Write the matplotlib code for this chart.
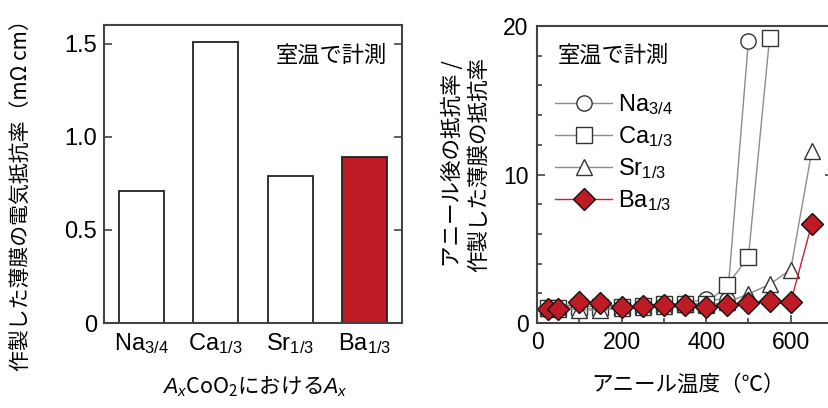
import matplotlib
matplotlib.use("Agg")
import matplotlib.pyplot as plt
from matplotlib.ticker import MultipleLocator

# fonts: latin in Liberation Sans, japanese from Noto CJK
plt.rcParams['font.family'] = ['Liberation Sans', 'Noto Sans CJK JP', 'DejaVu Sans']
plt.rcParams['mathtext.fontset'] = 'custom'
plt.rcParams['mathtext.rm'] = 'Liberation Sans'
plt.rcParams['mathtext.it'] = 'Liberation Sans:italic'
plt.rcParams['mathtext.default'] = 'regular'

JP = ['Noto Sans CJK JP', 'Liberation Sans']

#################################################
# Data
Categories = ['Na$_{3/4}$', 'Ca$_{1/3}$', 'Sr$_{1/3}$', 'Ba$_{1/3}$']
Resistivity = [0.71, 1.51, 0.79, 0.89]  # [mOhm cm]
BarColors = ['white', 'white', 'white', '#BE1B24']

TempNa = [25, 50, 100, 150, 200, 250, 300, 350, 400, 450, 500]
RatioNa = [1.0, 0.95, 1.0, 0.9, 1.0, 1.1, 1.15, 1.35, 1.6, 1.55, 19.0]
TempCa = [25, 50, 100, 150, 200, 250, 300, 350, 400, 450, 500, 550]
RatioCa = [1.0, 1.0, 1.1, 1.1, 1.05, 1.15, 1.3, 1.3, 1.3, 2.55, 4.45, 19.2]
TempSr = [25, 50, 100, 150, 200, 250, 300, 350, 400, 450, 500, 550, 600, 650]
RatioSr = [1.0, 0.95, 0.9, 0.85, 1.0, 1.1, 1.15, 1.3, 1.2, 1.4, 1.95, 2.6, 3.6, 11.6]
TempBa = [25, 50, 100, 150, 200, 250, 300, 350, 400, 450, 500, 550, 600, 650]
RatioBa = [0.95, 0.95, 1.4, 1.35, 1.05, 1.15, 1.2, 1.2, 1.1, 1.2, 1.35, 1.45, 1.4, 6.7]
#################################################

fig = plt.figure(figsize=(8.29, 4.08), dpi=100)
spine_col = '#444444'

# ---- left: bar chart
ax1 = fig.add_axes([104/829, 1-323/408, (402-104)/829, (323-25)/408])
ax1.bar(range(len(Categories)), Resistivity, width=0.6, color=BarColors,
        edgecolor='#222222', linewidth=1.3)
ax1.set_xlim(-0.5, 3.5)
ax1.set_ylim(0, 1.6)
ax1.set_xticks(range(len(Categories)))
ax1.set_xticklabels(Categories, fontsize=17)
ax1.set_yticks([0, 0.5, 1.0, 1.5])
ax1.set_yticklabels(['0', '0.5', '1.0', '1.5'], fontsize=17)
ax1.tick_params(axis='x', length=0, pad=6)
ax1.tick_params(axis='y', direction='in', right=True, length=6, width=1.2,
                color=spine_col, pad=5)
ax1.text(0.95, 0.90, '室温で計測', transform=ax1.transAxes, ha='right', va='center',
         fontsize=16, family=JP)

# ---- right: annealing curves
ax2 = fig.add_axes([537/829, 1-323/408, (833-537)/829, (323-26)/408])
gray = '#8c8c8c'
ax2.plot(TempNa, RatioNa, color=gray, lw=1, marker='o', ms=11, mfc='white',
         mec='#333333', mew=1, label='Na$_{3/4}$')
ax2.plot(TempCa, RatioCa, color=gray, lw=1, marker='s', ms=11, mfc='white',
         mec='#333333', mew=1, label='Ca$_{1/3}$')
ax2.plot(TempSr, RatioSr, color=gray, lw=1, marker='^', ms=12, mfc='white',
         mec='#333333', mew=1, label='Sr$_{1/3}$')
ax2.plot(TempBa, RatioBa, color='#D0202C', lw=1, marker='D', ms=11, mfc='#BE1B24',
         mec='#111111', mew=1, label='Ba$_{1/3}$')
ax2.set_xlim(0, 700)
ax2.set_ylim(0, 20)
ax2.set_xticks([0, 200, 400, 600])
ax2.set_yticks([0, 10, 20])
ax2.xaxis.set_minor_locator(MultipleLocator(100))
ax2.yaxis.set_minor_locator(MultipleLocator(2))
ax2.tick_params(axis='both', which='major', labelsize=16.5, direction='in',
                length=6, width=1.2, color=spine_col)
ax2.tick_params(axis='both', which='minor', direction='in', length=3.5,
                width=1.2, color=spine_col)
ax2.tick_params(axis='y', which='both', right=True, pad=6)
ax2.tick_params(axis='x', which='both', pad=6)
ax2.text(0.07, 0.90, '室温で計測', transform=ax2.transAxes, ha='left', va='center',
         fontsize=16, family=JP)
ax2.legend(loc='upper left', bbox_to_anchor=(0.03, 0.81), frameon=False,
           fontsize=17, handlelength=2.4, handletextpad=0.25, labelspacing=0.3,
           borderaxespad=0)

for ax in (ax1, ax2):
    for s in ax.spines.values():
        s.set_color(spine_col)
        s.set_linewidth(1.5)

# axis labels placed on the figure
fig.text(255/829, 1-386/408, r'$\mathit{A}_{\mathit{x}}$CoO$_2$における$\mathit{A}_{\mathit{x}}$',
         ha='center', va='center', fontsize=15.5, family=JP)
fig.text(22/829, 1-190/408, '作製した薄膜の電気抵抗率（mΩ cm）', rotation=90,
         ha='center', va='center', fontsize=15, family=JP)
fig.text(466/829, 1-164/408, 'アニール後の抵抗率 /\n作製した薄膜の抵抗率', rotation=90,
         ha='center', va='center', fontsize=15.5, family=JP, linespacing=1.2)
fig.text(688/829, 1-385/408, 'アニール温度（℃）', ha='center', va='center',
         fontsize=15.5, family=JP)

fig.savefig('out.png', dpi=100)
